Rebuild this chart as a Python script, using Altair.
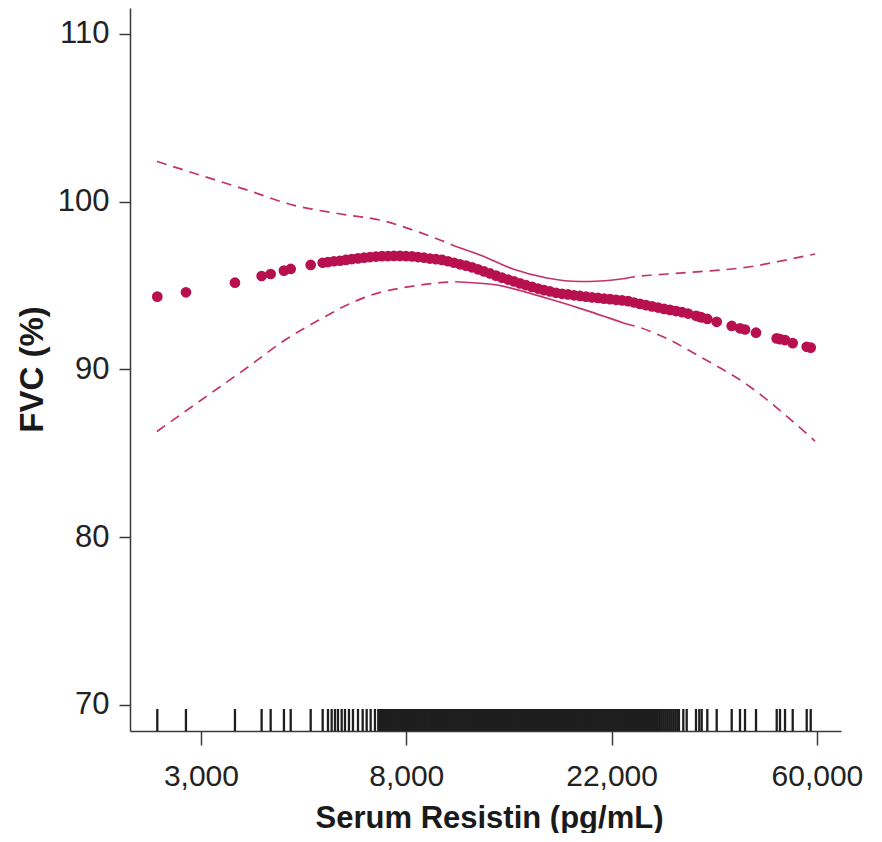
import altair as alt
import pandas as pd

# ---------------- data ----------------
# fitted FVC (%) at each observed serum resistin value (pg/mL)
FIT_RESISTIN = [2410, 2771, 3518, 4006, 4186, 4466, 4615, 5087, 5393,
                5534, 5698, 5867, 6041, 6220, 6405, 6595, 6790, 6992, 7199,
                7413, 7632, 7859, 8092, 8332, 8579, 8834, 9096, 9366, 9643,
                9929, 10224, 10527, 10839, 11161, 11492, 11833, 12184, 12545, 12917,
                13300, 13695, 14101, 14519, 14950, 15393, 15850, 16320, 16804, 17303,
                17816, 18345, 18889, 19449, 20026, 20620, 21232, 21862, 22510, 23178,
                23865, 24573, 25302, 26053, 26826, 27621, 28441, 29284, 30153, 31047,
                31968,
                33227, 33767, 34165, 35111, 36753, 39540, 41171, 42187, 44510,
                49231, 50030, 51262, 53220, 56976, 58099]
FIT_FVC = [94.34, 94.60, 95.17, 95.57, 95.69, 95.89, 95.99, 96.23, 96.36,
           96.40, 96.45, 96.48, 96.53, 96.58, 96.62, 96.66, 96.70, 96.73, 96.75,
           96.76, 96.77, 96.77, 96.76, 96.74, 96.70, 96.66, 96.61, 96.57, 96.53,
           96.45, 96.36, 96.27, 96.19, 96.09, 95.97, 95.84, 95.72, 95.59, 95.47,
           95.36, 95.25, 95.13, 95.02, 94.92, 94.82, 94.73, 94.65, 94.57, 94.51,
           94.47, 94.42, 94.38, 94.34, 94.29, 94.26, 94.22, 94.19, 94.15, 94.11,
           94.07, 93.99, 93.91, 93.83, 93.76, 93.69, 93.61, 93.55, 93.48, 93.41,
           93.33,
           93.20, 93.14, 93.10, 93.01, 92.84, 92.59, 92.45, 92.38, 92.19,
           91.85, 91.80, 91.75, 91.57, 91.35, 91.30]

# 95% confidence band
UPPER_RESISTIN = [2406, 2966, 3785, 4712, 5144, 6071, 7129, 8372, 9548, 10323,
                  11603, 13626, 16080, 18885, 20818, 23514,
                  24447, 28851, 33882, 43225, 50760, 59313]
UPPER_FVC = [102.40, 101.59, 100.64, 99.77, 99.55, 99.21, 98.91, 98.31, 97.72, 97.33,
             96.82, 95.99, 95.45, 95.24, 95.27, 95.42,
             95.51, 95.69, 95.83, 96.12, 96.49, 96.88]
UPPER_SOLID = (9, 15)   # index range drawn as a solid line

LOWER_RESISTIN = [2406, 2966, 3785, 4488, 5322, 6071, 6890, 8372, 9548, 10323,
                  12605, 16080, 18885, 23514,
                  24929, 28294, 33882, 43225, 50760, 59313]
LOWER_FVC = [86.30, 88.12, 90.23, 91.75, 92.98, 93.84, 94.47, 94.97, 95.17, 95.23,
             95.03, 94.24, 93.64, 92.74,
             92.55, 91.95, 90.76, 88.97, 87.40, 85.73]
LOWER_SOLID = (9, 13)

# rug of observed resistin values
RUG_RESISTIN = [2410, 2771, 3518, 4006, 4186, 4466, 4615, 5087, 5393, 5534, 5634,
                5726, 5810, 5916, 6012, 6130, 6251, 6405, 6553, 6682, 6813, 6957, 7070,
                7130, 7200, 7270, 7340, 7410, 7480, 7555, 7630, 7705, 7780, 7855, 7930,
                8010, 8090, 8170, 8250, 8330, 8410, 8490, 8575, 8660, 8745, 8830, 8915,
                9000, 9090, 9180, 9270, 9360, 9450, 9545, 9640, 9735, 9830, 9925, 10020,
                10120, 10220, 10320, 10420, 10520, 10625, 10730, 10835, 10940, 11045,
                11155, 11265, 11375, 11485, 11595, 11710, 11825, 11940, 12055, 12175,
                12295, 12415, 12535, 12660, 12785, 12910, 13035, 13165, 13295, 13425,
                13555, 13690, 13825, 13960, 14095, 14235, 14375, 14515, 14655, 14800,
                14945, 15090, 15240, 15390, 15540, 15690, 15845, 16000, 16155, 16315,
                16475, 16635, 16800, 16965, 17130, 17300, 17470, 17640, 17810, 17985,
                18160, 18340, 18520, 18700, 18880, 19065, 19250, 19440, 19630, 19820,
                20015, 20210, 20410, 20610, 20810, 21015, 21220, 21430, 21640, 21850,
                22065, 22280, 22500, 22720, 22940, 23165, 23390, 23620, 23850, 24085,
                24320, 24555, 24795, 25040, 25285, 25530, 25780, 26030, 26285, 26540,
                26800, 27060, 27325, 27590, 27860, 28130, 28405, 28680, 28960, 29245,
                29530, 29815, 30105, 30400, 30580,
                31235, 31757, 33227, 33767, 34165, 35111, 36753, 39540, 41171, 42187,
                44510, 49231, 50030, 51262, 53220, 56976, 58099]

X_TICKS = [2981, 8103, 22026, 59874]
X_TICK_LABELS = ["3,000", "8,000", "22,000", "60,000"]
Y_TICKS = [70, 80, 90, 100, 110]
X_LIMITS = [2110, 67332]
Y_LIMITS = [68.44, 111.55]

assert len(FIT_RESISTIN) == len(FIT_FVC)
assert len(UPPER_RESISTIN) == len(UPPER_FVC)
assert len(LOWER_RESISTIN) == len(LOWER_FVC)

# ---------------- tables ----------------
fit_df = pd.DataFrame({"resistin": FIT_RESISTIN, "fvc": FIT_FVC})
rug_df = pd.DataFrame({"resistin": RUG_RESISTIN})


def band_rows(xs, ys, solid, name):
    rows = []
    a, b = solid
    parts = [("dashed", 0, a), ("solid", a, b), ("dashed", b, len(xs) - 1)]
    for k, (style, i0, i1) in enumerate(parts):
        for i in range(i0, i1 + 1):
            rows.append({"resistin": xs[i], "fvc": ys[i], "style": style,
                         "seg": f"{name}-{k}"})
    return rows


band_df = pd.DataFrame(band_rows(UPPER_RESISTIN, UPPER_FVC, UPPER_SOLID, "upper")
                       + band_rows(LOWER_RESISTIN, LOWER_FVC, LOWER_SOLID, "lower"))
dashed_df = band_df[band_df["style"] == "dashed"]
solid_df = band_df[band_df["style"] == "solid"]

# ---------------- encodings ----------------
FONT = "Liberation Sans"
label_expr = "''"
for v, lab in reversed(list(zip(X_TICKS, X_TICK_LABELS))):
    label_expr = f"abs(datum.value - {v}) < 1 ? '{lab}' : ({label_expr})"

x_axis = alt.Axis(values=X_TICKS, labelExpr=label_expr, title="Serum Resistin (pg/mL)",
                  grid=False, domainColor="#3a3a3a", domainWidth=1.5,
                  tickColor="#3a3a3a", tickWidth=1.5, tickSize=14,
                  labelFont=FONT, labelFontSize=30, labelColor="#222222",
                  labelPadding=16, labelFlush=False, labelOverlap=False, labelBound=False,
                  titleFont=FONT, titleFontSize=31, titleFontWeight="bold",
                  titleColor="#1a1a1a", titleX=359, titleY=96,
                  titleBaseline="alphabetic", titleAlign="center")
y_axis = alt.Axis(values=Y_TICKS, title="FVC (%)", grid=False,
                  domainColor="#3a3a3a", domainWidth=1.5,
                  tickColor="#3a3a3a", tickWidth=1.5, tickSize=11,
                  labelFont=FONT, labelFontSize=31, labelColor="#222222",
                  labelPadding=10, labelOverlap=False,
                  titleFont=FONT, titleFontSize=33, titleFontWeight="bold",
                  titleColor="#1a1a1a", titleAngle=270, titleX=-88, titleY=361,
                  titleBaseline="alphabetic", titleAlign="center")

x_scale = alt.Scale(type="log", domain=X_LIMITS, nice=False)
y_scale = alt.Scale(domain=Y_LIMITS, nice=False, zero=False)


def xenc():
    return alt.X("resistin:Q", scale=x_scale, axis=x_axis)


def yenc():
    return alt.Y("fvc:Q", scale=y_scale, axis=y_axis)


LINE_COLOR = "#C3336A"
POINT_COLOR = "#B8104F"

rug = alt.Chart(rug_df).mark_rule(color="#1e1e1e", strokeWidth=2.3).encode(
    x=xenc(), y=alt.value(701), y2=alt.value(723))

dashed = alt.Chart(dashed_df).mark_line(
    color=LINE_COLOR, strokeWidth=1.7, strokeDash=[10, 7], interpolate="monotone"
).encode(x=xenc(), y=yenc(), detail="seg:N", order="resistin:Q")

solid = alt.Chart(solid_df).mark_line(
    color=LINE_COLOR, strokeWidth=1.6, interpolate="monotone"
).encode(x=xenc(), y=yenc(), detail="seg:N", order="resistin:Q")

points = alt.Chart(fit_df).mark_circle(size=115, color=POINT_COLOR, opacity=1).encode(
    x=xenc(), y=yenc())

chart = alt.layer(rug, dashed, solid, points).properties(
    width=711, height=723,
    autosize=alt.AutoSizeParams(type="none"),
    padding={"left": 122, "top": 0, "right": 30, "bottom": 102},
).configure_view(strokeOpacity=0)

chart.save("out.html", embed_options={"renderer": "svg", "actions": False})
